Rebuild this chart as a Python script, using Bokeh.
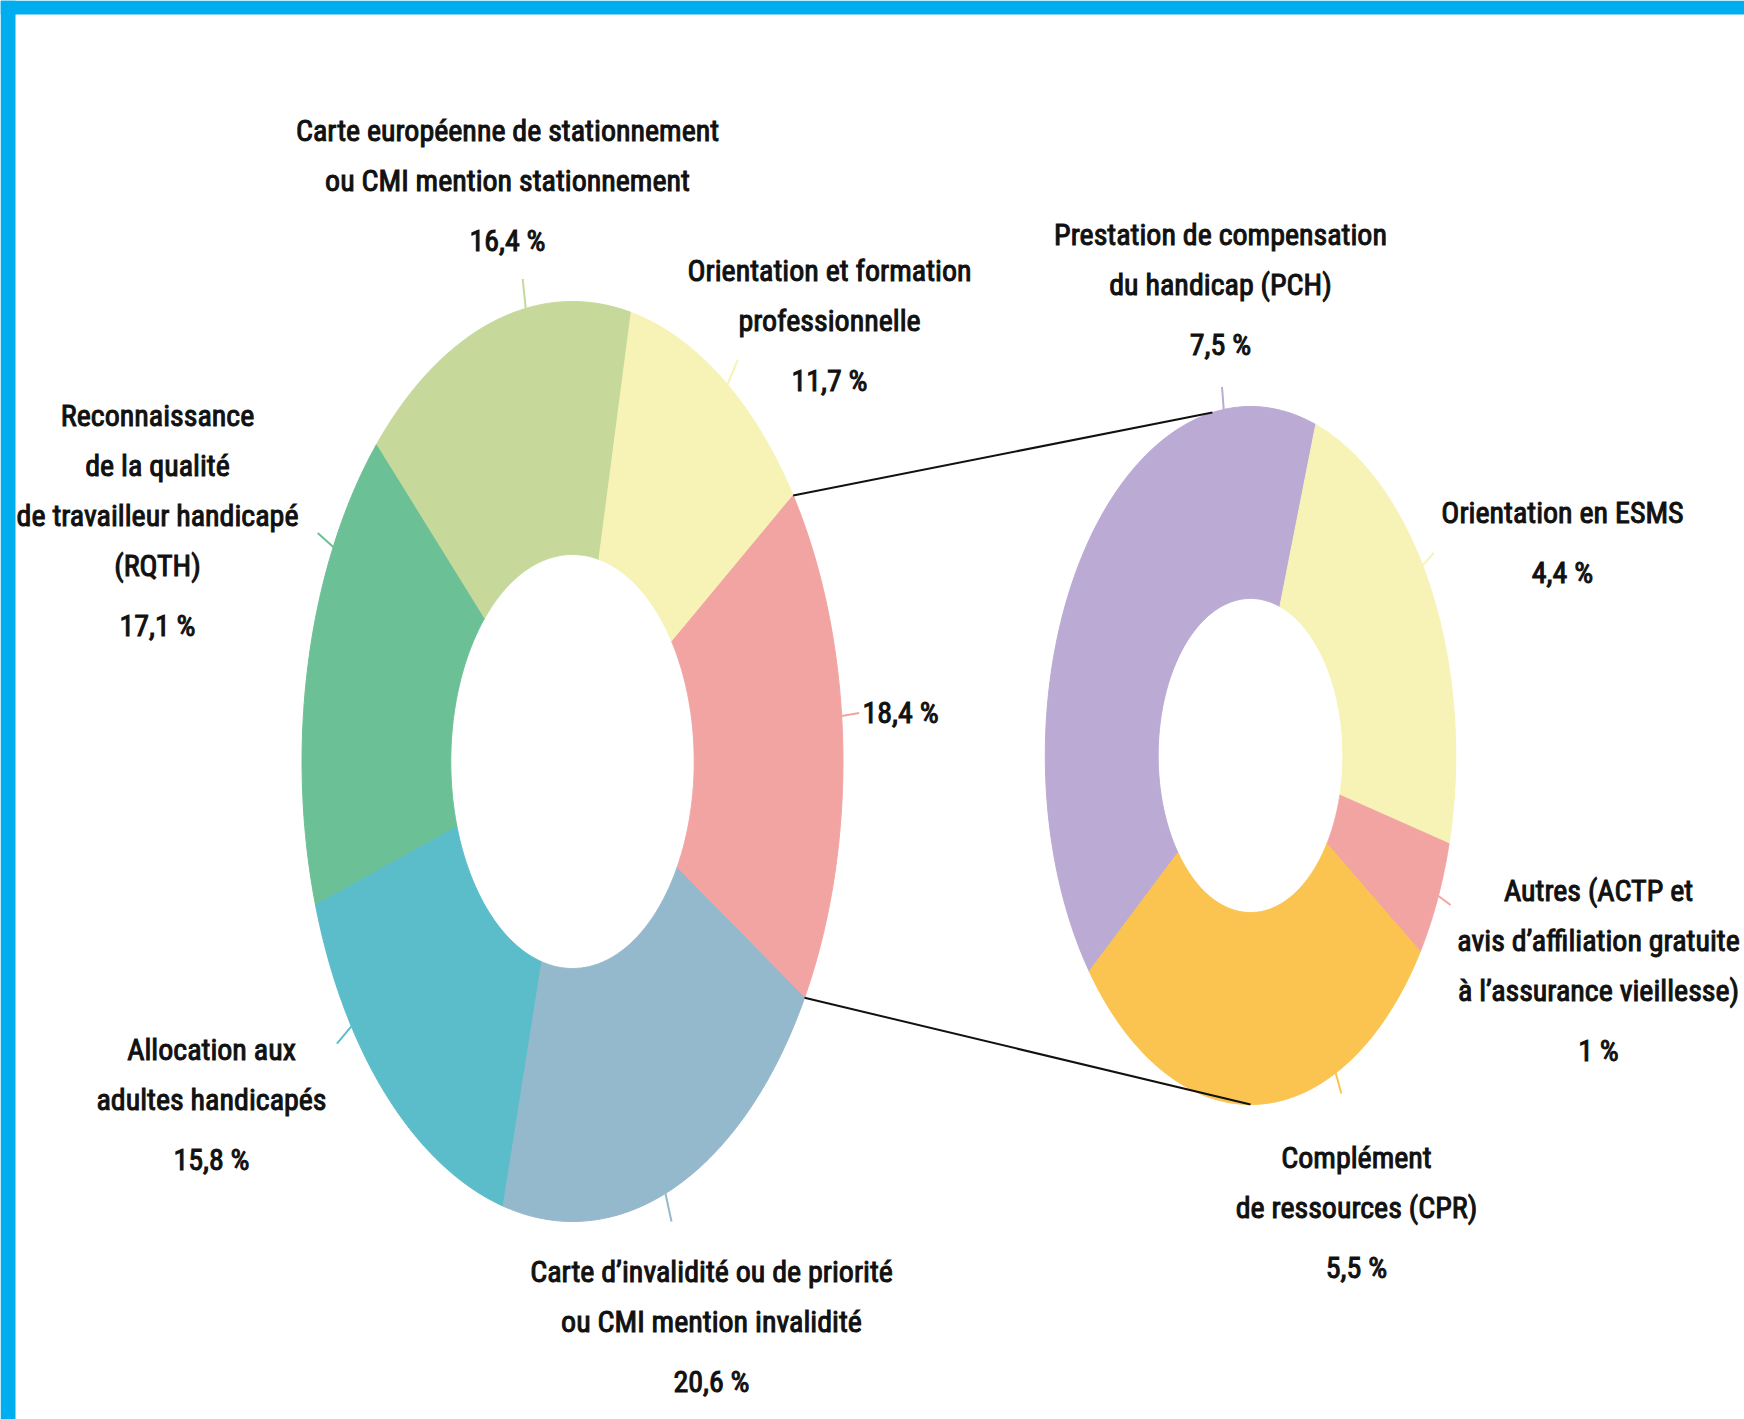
import numpy as np
from bokeh.plotting import figure
from bokeh.models import Range1d, ColumnDataSource
from bokeh.embed import file_html
from bokeh.resources import INLINE
from bokeh.core.properties import value

# ---------------- data ----------------
main_categories = [
    "Carte européenne de stationnement\nou CMI mention stationnement",
    "Orientation et formation\nprofessionnelle",
    "",
    "Carte d’invalidité ou de priorité\nou CMI mention invalidité",
    "Allocation aux\nadultes handicapés",
    "Reconnaissance\nde la qualité\nde travailleur handicapé\n(RQTH)",
]
main_values = [16.4, 11.7, 18.4, 20.6, 15.8, 17.1]
main_pct_labels = ["16,4 %", "11,7 %", "18,4 %", "20,6 %", "15,8 %", "17,1 %"]
main_colors = ["#C6D99B", "#F7F3B6", "#F2A4A3", "#95B9CC", "#5BBDC9", "#6CC095"]

sub_categories = [
    "Prestation de compensation\ndu handicap (PCH)",
    "Orientation en ESMS",
    "Autres (ACTP et\navis d’affiliation gratuite\nà l’assurance vieillesse)",
    "Complément\nde ressources (CPR)",
]
sub_values = [7.5, 4.4, 1.0, 5.5]
sub_pct_labels = ["7,5 %", "4,4 %", "1 %", "5,5 %"]
sub_colors = ["#BBAAD4", "#F7F3B6", "#F2A4A3", "#FBC450"]
EXPLODED = 2  # index of the main slice detailed in the second ring

# ---------------- layout ----------------
W, H = 1744, 1419
SQUEEZE = 0.588          # horizontal squeeze of the rings
HOLE = 0.45
L_CX, L_CY, L_R = 572, 761, 460
R_CX, R_CY, R_R = 1250, 755, 349
L_START, R_START = -46.5, -128.2
CONNECT_ANGLES = (-10.7, 180.0)
FONT = value("'Liberation Sans Narrow', 'Roboto Condensed', 'DejaVu Sans Condensed', Roboto, sans-serif")
FS = "30px"
LINE_GAP, PCT_GAP = 50, 60

# label blocks: (x centre, y of first line, leader anchor x, y)
main_label_pos = [(507, 130, 521, 267), (829, 270, 734, 367), (862, 712, 862, 712),
                  (711, 1271, 674, 1235), (211, 1049, 334, 1046), (157, 415, 300, 517)]
sub_label_pos = [(1220, 234, 1220, 367), (1562, 512, 1440, 545),
                 (1598, 890, 1452, 906), (1356, 1157, 1355, 1146)]


def pt(cx, cy, R, ang, r=1.0):
    a = np.radians(ang)
    return cx + R * SQUEEZE * r * np.sin(a), cy - R * r * np.cos(a)


def ring(cx, cy, R, values, start):
    tot = float(sum(values))
    xs, ys, spans = [], [], []
    a = start
    for v in values:
        b = a + 360.0 * v / tot
        th = np.linspace(a, b, 120)
        ox, oy = pt(cx, cy, R, th, 1.0)
        ix, iy = pt(cx, cy, R, th[::-1], HOLE)
        xs.append(np.concatenate([ox, ix]).tolist())
        ys.append(np.concatenate([oy, iy]).tolist())
        spans.append((a, b))
        a = b
    return xs, ys, spans


def leader(cx, cy, R, span, ax, ay):
    dx = (ax - cx) / (R * SQUEEZE)
    dy = (cy - ay) / R
    ang = np.degrees(np.arctan2(dx, dy))
    a0, a1 = span
    while ang < a0:
        ang += 360
    while ang > a0 + 360:
        ang -= 360
    m = min(4.0, (a1 - a0) / 3)
    if ang > a1:
        ang = a1 - m if (ang - a1) < (a0 + 360 - ang) else a0 + m
    ang = min(max(ang, a0 + m), a1 - m)
    x0, y0 = pt(cx, cy, R, ang, 1.0)
    x1, y1 = pt(cx, cy, R, ang, 1.065)
    return x0, y0, x1, y1


p = figure(width=W, height=H, x_range=Range1d(0, W), y_range=Range1d(H, 0),
           output_backend="svg", toolbar_location=None,
           x_axis_location=None, y_axis_location=None, min_border=0,
           outline_line_color=None, background_fill_color="white",
           border_fill_color="white")
p.grid.grid_line_color = None

# cyan frame
p.quad(left=[0, 0], right=[W, 15], top=[0, 0], bottom=[14, H],
       fill_color="#00AEEF", line_color=None)

lx, ly, lspans = ring(L_CX, L_CY, L_R, main_values, L_START)
rx, ry, rspans = ring(R_CX, R_CY, R_R, sub_values, R_START)
p.patches(xs=lx + rx, ys=ly + ry, fill_color=main_colors + sub_colors,
          line_color=main_colors + sub_colors, line_width=1)

# connectors
a0, a1 = lspans[EXPLODED]
sx0, sy0 = pt(L_CX, L_CY, L_R, a0)
sx1, sy1 = pt(L_CX, L_CY, L_R, a1)
ex0, ey0 = pt(R_CX, R_CY, R_R, CONNECT_ANGLES[0])
ex1, ey1 = pt(R_CX, R_CY, R_R, CONNECT_ANGLES[1])
p.segment(x0=[sx0, sx1], y0=[sy0, sy1], x1=[ex0, ex1], y1=[ey0, ey1],
          line_color="#111111", line_width=2)

# leaders
seg = dict(x0=[], y0=[], x1=[], y1=[], c=[])
for span, pos, col in zip(lspans, main_label_pos, main_colors):
    x0, y0, x1, y1 = leader(L_CX, L_CY, L_R, span, pos[2], pos[3])
    for k, v in zip(["x0", "y0", "x1", "y1", "c"], [x0, y0, x1, y1, col]):
        seg[k].append(v)
for span, pos, col in zip(rspans, sub_label_pos, sub_colors):
    x0, y0, x1, y1 = leader(R_CX, R_CY, R_R, span, pos[2], pos[3])
    for k, v in zip(["x0", "y0", "x1", "y1", "c"], [x0, y0, x1, y1, col]):
        seg[k].append(v)
p.segment(x0="x0", y0="y0", x1="x1", y1="y1", line_color="c", line_width=2,
          source=ColumnDataSource(seg))

# labels
tx, ty, tt, ta = [], [], [], []
for cats, pcts, poss in [(main_categories, main_pct_labels, main_label_pos),
                         (sub_categories, sub_pct_labels, sub_label_pos)]:
    for cat, pct, pos in zip(cats, pcts, poss):
        lines = [s for s in cat.split("\n") if s]
        y = pos[1]
        for ln in lines:
            tx.append(pos[0]); ty.append(y); tt.append(ln); ta.append("center")
            y += LINE_GAP
        if lines:
            y += PCT_GAP - LINE_GAP
            ta_pct = "center"
        else:
            ta_pct = "left"
        tx.append(pos[0]); ty.append(y); tt.append(pct); ta.append(ta_pct)

p.text(x="x", y="y", text="t", text_align="a", text_baseline="middle",
       text_font=FONT, text_font_size=FS, text_color="#111111",
       text_outline_color="#111111",
       source=ColumnDataSource(dict(x=tx, y=ty, t=tt, a=ta)))

open("out.html", "w").write(file_html(p, INLINE))
